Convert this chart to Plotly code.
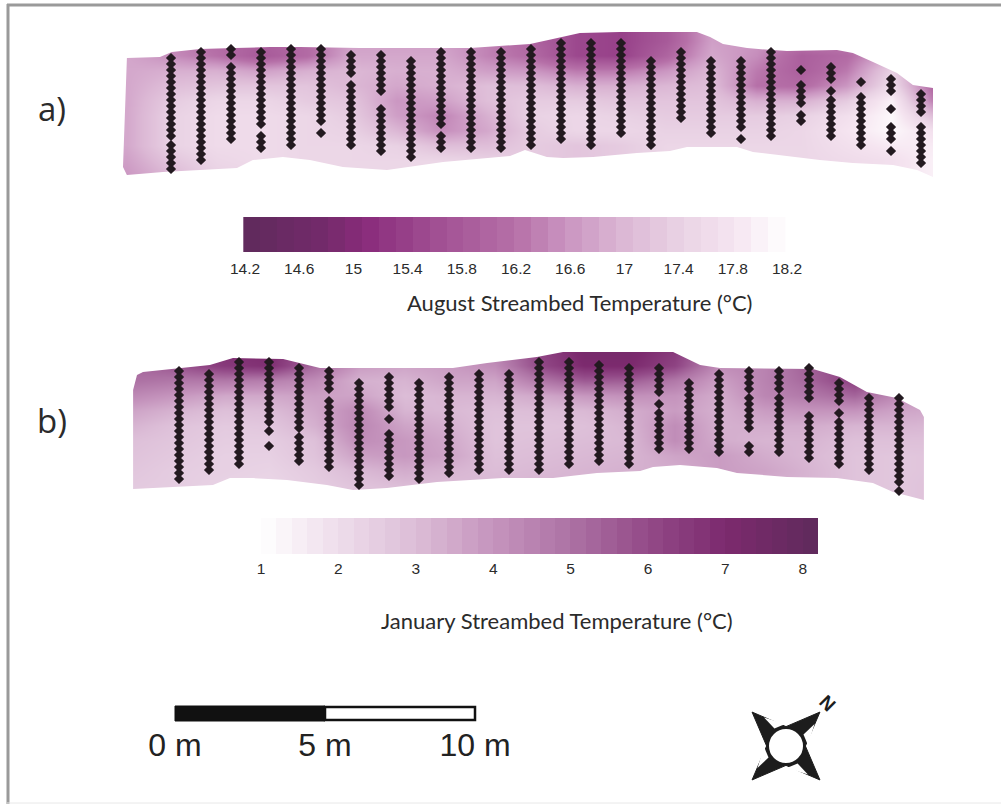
import math
import numpy as np
import plotly.graph_objects as go

# ---- Panel a: August ----
aug_grid_x = [-1.5, 0, 1.5, 3, 4.5, 6, 7.5, 9, 10.5, 12, 13.5, 15, 16.5, 18, 19.5, 21, 22.5, 24, 25.5]
aug_grid_y = [-0.5, 0, 0.5, 1, 1.5, 2, 2.5, 3, 3.5, 4, 4.5, 5]
aug_temp = [
    [16.8, 16.4, 16.1, 15.9, 16.1, 16.7, 16.7, 16.7, 16.4, 16.0, 15.5, 15.4, 15.8, 16.7, 16.6, 16.3, 16.4, 16.9, 16.3],
    [16.8, 16.4, 16.1, 15.9, 16.1, 16.7, 16.7, 16.7, 16.4, 16.0, 15.5, 15.4, 15.8, 16.7, 16.6, 16.3, 16.4, 16.9, 16.3],
    [16.8, 16.5, 16.2, 15.8, 16.1, 16.8, 16.8, 16.8, 16.4, 16.1, 15.5, 15.4, 16.0, 16.8, 16.5, 15.9, 16.1, 16.9, 16.0],
    [16.8, 16.9, 16.9, 16.7, 16.9, 17.0, 16.9, 16.9, 16.7, 16.6, 16.3, 16.3, 16.6, 17.0, 16.3, 15.9, 16.3, 17.4, 15.9],
    [16.8, 17.1, 17.2, 17.2, 17.2, 17.0, 16.8, 16.9, 17.1, 17.1, 16.9, 16.9, 17.0, 17.1, 16.2, 16.1, 16.6, 17.6, 15.9],
    [16.8, 17.3, 17.5, 17.5, 17.3, 17.2, 16.6, 16.7, 17.1, 17.3, 17.3, 17.2, 17.2, 17.2, 16.9, 16.9, 17.3, 18.0, 16.2],
    [16.8, 17.4, 17.6, 17.6, 17.5, 17.3, 16.7, 16.4, 16.9, 17.4, 17.5, 17.4, 17.3, 17.3, 17.3, 17.4, 17.7, 18.1, 17.0],
    [16.8, 17.4, 17.6, 17.6, 17.5, 17.4, 17.0, 16.5, 16.8, 17.3, 17.5, 17.5, 17.4, 17.4, 17.4, 17.5, 17.8, 18.1, 17.7],
    [16.8, 17.4, 17.6, 17.6, 17.5, 17.5, 17.4, 17.1, 17.1, 17.3, 17.2, 17.3, 17.5, 17.5, 17.5, 17.5, 17.7, 17.9, 17.9],
    [16.7, 17.2, 17.5, 17.6, 17.5, 17.5, 17.5, 17.5, 17.4, 17.3, 17.2, 17.3, 17.5, 17.5, 17.5, 17.5, 17.6, 17.7, 18.0],
    [16.6, 17.0, 17.4, 17.5, 17.5, 17.5, 17.5, 17.5, 17.5, 17.5, 17.4, 17.4, 17.5, 17.5, 17.5, 17.5, 17.6, 17.7, 18.0],
    [16.6, 17.0, 17.4, 17.5, 17.5, 17.5, 17.5, 17.5, 17.5, 17.5, 17.4, 17.4, 17.5, 17.5, 17.5, 17.5, 17.6, 17.7, 18.0],
]
aug_top_x = [-1.47, -0.37, 0.03, 0.97, 2.13, 3.3, 4.3, 6.3, 9.97, 10.97, 11.97, 12.73, 13.63, 14.97, 17.53, 17.97, 18.4, 19.2, 20.53, 22.2, 22.73, 23.4, 24.2, 24.73, 25.4]
aug_top_y = [0.6, 0.57, 0.4, 0.3, 0.27, 0.23, 0.23, 0.27, 0.27, 0.2, 0.13, -0.03, -0.23, -0.27, -0.27, -0.1, 0.13, 0.27, 0.37, 0.33, 0.43, 0.73, 1.1, 1.5, 1.6]
aug_bot_x = [25.4, 24.87, 24.07, 22.73, 21.63, 20.53, 19.4, 18.87, 17.2, 16.63, 15.53, 14.07, 13.07, 12.53, 11.8, 11.3, 9.07, 7.2, 5.73, 4.63, 3.73, 2.73, 2.2, -0.27, -1.47, -1.6]
aug_bot_y = [4.57, 4.33, 4.17, 4.1, 4.0, 3.87, 3.73, 3.57, 3.57, 3.7, 3.77, 3.9, 3.93, 3.9, 3.67, 3.87, 4.07, 4.33, 4.23, 4.0, 3.9, 4.0, 4.27, 4.4, 4.5, 4.23]
aug_samples = [
    [0.6, 0.8, 1.0, 1.2, 1.4, 1.6, 1.8, 2.0, 2.2, 2.4, 2.6, 2.8, 3.0, 3.2, 3.5, 3.7, 3.9, 4.1, 4.3],
    [0.4, 0.6, 0.8, 1.0, 1.2, 1.4, 1.6, 1.8, 2.0, 2.2, 2.4, 2.6, 2.8, 3.0, 3.2, 3.4, 3.6, 3.8, 4.0],
    [0.3, 0.5, 0.9, 1.1, 1.3, 1.5, 1.7, 1.9, 2.1, 2.3, 2.5, 2.7, 2.9, 3.1, 3.3],
    [0.4, 0.6, 0.8, 1.0, 1.2, 1.4, 1.6, 1.8, 2.0, 2.2, 2.4, 2.6, 2.8, 3.2, 3.4, 3.6],
    [0.3, 0.5, 0.7, 0.9, 1.1, 1.3, 1.5, 1.7, 1.9, 2.1, 2.3, 2.5, 2.7, 2.9, 3.1, 3.3, 3.5],
    [0.3, 0.5, 0.7, 0.9, 1.1, 1.3, 1.5, 1.7, 1.9, 2.1, 2.3, 2.5, 2.7, 3.1],
    [0.5, 0.7, 0.9, 1.1, 1.5, 1.7, 1.9, 2.1, 2.3, 2.5, 2.7, 2.9, 3.1, 3.3, 3.5],
    [0.5, 0.7, 0.9, 1.1, 1.3, 1.5, 1.7, 2.3, 2.5, 2.7, 2.9, 3.1, 3.3, 3.5, 3.7],
    [0.7, 0.9, 1.1, 1.3, 1.5, 1.7, 1.9, 2.1, 2.3, 2.5, 2.7, 2.9, 3.1, 3.3, 3.5, 3.7, 3.9],
    [0.4, 0.6, 0.8, 1.0, 1.2, 1.4, 1.6, 1.8, 2.0, 2.2, 2.4, 2.6, 2.8, 3.2, 3.4, 3.6],
    [0.4, 0.6, 0.8, 1.0, 1.2, 1.4, 1.6, 1.8, 2.0, 2.2, 2.4, 2.6, 2.8, 3.0, 3.2, 3.4, 3.6],
    [0.4, 0.6, 0.8, 1.0, 1.2, 1.4, 1.6, 1.8, 2.0, 2.2, 2.4, 2.6, 2.8, 3.0, 3.2, 3.4, 3.6],
    [0.3, 0.5, 0.7, 0.9, 1.1, 1.3, 1.5, 1.7, 1.9, 2.1, 2.3, 2.5, 2.7, 2.9, 3.1, 3.3, 3.5],
    [0.1, 0.3, 0.5, 0.7, 0.9, 1.1, 1.3, 1.5, 1.7, 1.9, 2.1, 2.3, 2.5, 2.7, 2.9, 3.1, 3.3],
    [0.1, 0.3, 0.5, 0.7, 0.9, 1.1, 1.3, 1.5, 1.7, 1.9, 2.1, 2.3, 2.5, 2.7, 2.9, 3.1, 3.3, 3.5],
    [0.1, 0.3, 0.5, 0.7, 0.9, 1.1, 1.3, 1.5, 1.7, 1.9, 2.1, 2.3, 2.5, 2.7, 2.9, 3.1],
    [0.7, 0.9, 1.1, 1.3, 1.5, 1.7, 1.9, 2.1, 2.3, 2.5, 2.7, 2.9, 3.1, 3.3, 3.5],
    [0.4, 0.6, 0.8, 1.0, 1.2, 1.4, 1.6, 1.8, 2.0, 2.2, 2.4, 2.6],
    [0.7, 0.9, 1.1, 1.3, 1.5, 1.7, 1.9, 2.1, 2.3, 2.5, 2.7, 2.9, 3.1],
    [0.7, 0.9, 1.1, 1.3, 1.5, 1.7, 1.9, 2.1, 2.3, 2.5, 2.7, 2.9, 3.3],
    [0.4, 0.6, 0.8, 1.0, 1.2, 1.4, 1.6, 1.8, 2.0, 2.2, 2.4, 2.6, 2.8, 3.0, 3.2],
    [1.0, 1.5, 1.7, 1.9, 2.1, 2.5, 2.7],
    [0.9, 1.1, 1.3, 1.7, 2.0, 2.2, 2.4, 2.6, 2.8, 3.0, 3.2],
    [1.4, 1.9, 2.1, 2.3, 2.5, 2.7, 2.9, 3.1, 3.3, 3.5],
    [1.3, 1.5, 1.7, 2.3, 2.9, 3.1, 3.3, 3.7],
    [1.8, 2.0, 2.2, 2.4, 2.9, 3.1, 3.3, 3.5, 3.7, 3.9, 4.1],
]
aug_ticks = [14.2, 14.6, 15, 15.4, 15.8, 16.2, 16.6, 17, 17.4, 17.8, 18.2]

# ---- Panel b: January ----
jan_grid_x = [-1.5, 0, 1.5, 3, 4.5, 6, 7.5, 9, 10.5, 12, 13.5, 15, 16.5, 18, 19.5, 21, 22.5, 24, 25.5]
jan_grid_y = [-0.5, 0, 0.5, 1, 1.5, 2, 2.5, 3, 3.5, 4, 4.5, 5]
jan_temp = [
    [5.2, 6.0, 6.8, 7.0, 5.5, 4.0, 4.0, 4.2, 4.5, 6.2, 7.2, 7.2, 6.5, 4.5, 4.5, 5.0, 5.5, 4.5, 4.0],
    [5.2, 6.0, 6.8, 7.0, 5.5, 4.0, 4.0, 4.2, 4.5, 6.2, 7.2, 7.2, 6.5, 4.5, 4.5, 5.0, 5.5, 4.5, 4.0],
    [5.2, 5.8, 6.5, 6.8, 5.2, 3.8, 3.6, 3.8, 4.2, 6.0, 7.0, 7.0, 6.2, 4.2, 4.5, 5.5, 6.3, 4.2, 4.0],
    [5.0, 4.8, 4.8, 4.6, 4.2, 3.3, 3.2, 3.6, 3.6, 4.8, 5.6, 5.5, 4.8, 3.7, 4.5, 5.3, 6.3, 4.5, 4.0],
    [4.3, 3.9, 3.5, 3.5, 3.7, 3.6, 3.0, 3.2, 3.2, 3.5, 3.9, 4.1, 4.0, 3.4, 4.4, 4.8, 5.3, 4.2, 3.8],
    [3.6, 3.2, 2.9, 3.0, 3.5, 4.3, 3.2, 3.1, 2.9, 3.0, 3.1, 3.4, 3.8, 3.3, 3.8, 4.0, 4.0, 3.6, 3.4],
    [3.2, 2.8, 2.6, 2.7, 3.3, 4.4, 3.6, 3.3, 2.8, 2.8, 2.9, 3.2, 4.2, 3.3, 3.4, 3.4, 3.2, 3.2, 3.1],
    [2.9, 2.7, 2.5, 2.5, 2.9, 4.2, 3.9, 3.5, 2.8, 2.9, 3.0, 3.1, 4.2, 3.4, 3.2, 3.2, 2.9, 2.9, 2.9],
    [2.8, 2.6, 2.4, 2.4, 2.8, 3.7, 3.9, 3.6, 2.9, 3.0, 3.1, 3.2, 3.6, 3.8, 3.4, 3.1, 2.8, 2.7, 2.8],
    [2.7, 2.5, 2.4, 2.3, 2.6, 3.1, 3.4, 3.2, 3.0, 3.1, 3.2, 3.3, 3.4, 3.8, 3.6, 3.2, 2.8, 2.7, 2.8],
    [2.6, 2.5, 2.3, 2.2, 2.5, 2.8, 3.0, 3.0, 3.1, 3.2, 3.2, 3.3, 3.3, 3.4, 3.4, 3.2, 2.8, 2.7, 2.9],
    [2.6, 2.5, 2.3, 2.2, 2.5, 2.8, 3.0, 3.0, 3.1, 3.2, 3.2, 3.3, 3.3, 3.4, 3.4, 3.2, 2.8, 2.7, 2.9],
]
jan_top_x = [-1.53, -1.4, -1.2, 0.03, 1.03, 1.8, 3.47, 4.7, 9.13, 10.27, 11.93, 12.8, 16.47, 17.37, 18.03, 21.13, 22.03, 22.93, 23.93, 24.7, 24.83]
jan_top_y = [1.33, 0.83, 0.73, 0.6, 0.5, 0.27, 0.3, 0.6, 0.6, 0.43, 0.23, 0.07, 0.07, 0.5, 0.6, 0.63, 0.9, 1.4, 1.6, 2.0, 2.23]
jan_bot_x = [24.83, 23.8, 23.13, 21.93, 20.27, 18.6, 17.93, 16.7, 15.8, 15.37, 13.93, 12.47, 10.8, 8.6, 6.93, 5.8, 4.93, 3.6, 2.47, 1.7, 1.13, -1.53]
jan_bot_y = [5.0, 4.73, 4.43, 4.27, 4.23, 4.1, 3.93, 3.83, 3.9, 4.03, 4.1, 4.27, 4.27, 4.4, 4.6, 4.67, 4.5, 4.33, 4.27, 4.27, 4.5, 4.63]
jan_samples = [
    [0.7, 0.9, 1.1, 1.3, 1.5, 1.7, 1.9, 2.1, 2.3, 2.5, 2.7, 2.9, 3.1, 3.3, 3.5, 3.7, 3.9, 4.1, 4.3],
    [0.8, 1.0, 1.2, 1.4, 1.6, 1.8, 2.0, 2.2, 2.4, 2.6, 2.8, 3.0, 3.2, 3.4, 3.6, 3.8, 4.0],
    [0.4, 0.6, 0.8, 1.0, 1.2, 1.4, 1.6, 1.8, 2.0, 2.2, 2.4, 2.6, 2.8, 3.0, 3.2, 3.4, 3.6, 3.8],
    [0.4, 0.6, 0.8, 1.0, 1.2, 1.4, 1.6, 1.8, 2.0, 2.2, 2.4, 2.7, 3.2],
    [0.6, 0.8, 1.0, 1.2, 1.4, 1.6, 1.8, 2.0, 2.2, 2.4, 2.6, 2.9, 3.1, 3.3, 3.5, 3.7],
    [0.7, 0.9, 1.1, 1.3, 1.7, 1.9, 2.1, 2.3, 2.5, 2.7, 2.9, 3.1, 3.3, 3.5, 3.7, 3.9],
    [1.1, 1.3, 1.5, 1.7, 1.9, 2.1, 2.3, 2.5, 2.7, 2.9, 3.1, 3.3, 3.5, 3.7, 3.9, 4.1, 4.3, 4.5],
    [0.9, 1.1, 1.3, 1.5, 1.7, 1.9, 2.3, 2.8, 3.0, 3.2, 3.4, 3.6, 3.8, 4.0, 4.2],
    [1.1, 1.3, 1.5, 1.7, 1.9, 2.1, 2.3, 2.5, 2.7, 2.9, 3.1, 3.3, 3.5, 3.7, 3.9, 4.1, 4.3],
    [0.9, 1.1, 1.3, 1.5, 1.7, 1.9, 2.1, 2.3, 2.5, 2.7, 2.9, 3.1, 3.3, 3.5, 3.7, 3.9, 4.1],
    [0.8, 1.0, 1.2, 1.4, 1.6, 1.8, 2.0, 2.2, 2.4, 2.6, 2.8, 3.0, 3.2, 3.4, 3.6, 3.8, 4.0],
    [0.8, 1.0, 1.2, 1.4, 1.6, 1.8, 2.0, 2.2, 2.4, 2.6, 2.8, 3.0, 3.2, 3.4, 3.6, 3.8, 4.0],
    [0.4, 0.6, 0.8, 1.0, 1.2, 1.4, 1.6, 1.8, 2.0, 2.2, 2.4, 2.6, 2.8, 3.0, 3.2, 3.4, 3.6, 3.8, 4.0],
    [0.4, 0.6, 0.8, 1.0, 1.2, 1.4, 1.6, 1.8, 2.0, 2.2, 2.4, 2.6, 2.8, 3.0, 3.2, 3.4, 3.6, 3.8],
    [0.5, 0.7, 0.9, 1.1, 1.3, 1.5, 1.7, 1.9, 2.1, 2.3, 2.5, 2.7, 2.9, 3.1, 3.3, 3.5, 3.7],
    [0.6, 0.8, 1.0, 1.2, 1.4, 1.6, 1.8, 2.0, 2.2, 2.4, 2.6, 2.8, 3.0, 3.2, 3.4, 3.6, 3.8],
    [0.6, 0.8, 1.0, 1.2, 1.4, 1.8, 2.1, 2.3, 2.5, 2.7, 2.9, 3.1, 3.3],
    [1.1, 1.3, 1.5, 1.7, 1.9, 2.1, 2.3, 2.5, 2.7, 2.9, 3.1, 3.3],
    [0.8, 1.0, 1.2, 1.4, 1.6, 1.8, 2.0, 2.2, 2.4, 2.6, 2.8, 3.0, 3.2, 3.4],
    [0.7, 0.9, 1.1, 1.3, 1.6, 1.8, 2.0, 2.2, 2.4, 2.6, 3.2, 3.4],
    [0.7, 0.9, 1.1, 1.3, 1.6, 1.8, 2.0, 2.2, 2.4, 2.6, 2.8, 3.0, 3.2, 3.4],
    [0.6, 0.8, 1.0, 1.2, 1.4, 1.6, 2.2, 2.4, 2.6, 2.8, 3.0, 3.2, 3.4, 3.6],
    [1.1, 1.3, 1.5, 1.7, 2.1, 2.4, 2.6, 2.8, 3.0, 3.2, 3.4, 3.6, 3.8],
    [1.6, 1.8, 2.0, 2.2, 2.4, 2.6, 2.8, 3.0, 3.2, 3.4, 3.6, 3.8, 4.0],
    [1.6, 1.8, 2.0, 2.2, 2.4, 2.6, 2.8, 3.0, 3.2, 3.4, 3.6, 3.8, 4.0, 4.2, 4.4, 4.7],
]
jan_ticks = [1, 2, 3, 4, 5, 6, 7, 8]

scale_ticks = [0, 5, 10]
scale_labels = ["0 m", "5 m", "10 m"]

# ---- Styling ----
W, H = 1001, 804
DARK = "#231a20"
aug_scale = [[0.0, "#5f2a5c"], [0.15, "#742a6b"], [0.225, "#8a2c7c"], [0.35, "#a04f92"], [0.5, "#b670a8"],
             [0.6, "#cb97c2"], [0.7, "#dcb8d5"], [0.8, "#e9d2e4"], [0.9, "#f5e4f0"], [1.0, "#ffffff"]]
jan_scale = [[0.0, "#ffffff"], [0.139, "#eeddeb"], [0.278, "#dcbdd7"], [0.417, "#c594bd"], [0.556, "#ad72a4"],
             [0.694, "#934a88"], [0.833, "#7c2a6e"], [1.0, "#5f2a5c"]]


def x_range(origin_px, px_per_unit):
    return [(0 - origin_px) / px_per_unit, (W - origin_px) / px_per_unit]


def y_range(origin_px, px_per_unit):
    return [(H - origin_px) / px_per_unit, (0 - origin_px) / px_per_unit]


fig = go.Figure()


def add_map(grid_x, grid_y, temp, cs, zmin, zmax, top_x, top_y, bot_x, bot_y, samples, xa, ya):
    fig.add_trace(go.Heatmap(x=grid_x, y=grid_y, z=temp, colorscale=cs, zmin=zmin, zmax=zmax,
                             zsmooth="best", showscale=False, xaxis=xa, yaxis=ya, hoverinfo="skip"))
    lo, hi, up, down = -3, 27, -2, 7
    fig.add_trace(go.Scatter(x=list(top_x) + [hi, hi, lo, lo], y=list(top_y) + [top_y[-1], up, up, top_y[0]],
                             mode="lines", fill="toself", fillcolor="white", line=dict(width=0),
                             xaxis=xa, yaxis=ya, hoverinfo="skip", showlegend=False))
    fig.add_trace(go.Scatter(x=list(bot_x) + [top_x[0], lo, lo, hi, hi, top_x[-1]],
                             y=list(bot_y) + [top_y[0], top_y[0], down, down, top_y[-1], top_y[-1]],
                             mode="lines", fill="toself", fillcolor="white", line=dict(width=0),
                             xaxis=xa, yaxis=ya, hoverinfo="skip", showlegend=False))
    xs, ys = [], []
    for station, depths in enumerate(samples):
        xs += [station] * len(depths)
        ys += depths
    fig.add_trace(go.Scatter(x=xs, y=ys, mode="markers", xaxis=xa, yaxis=ya, showlegend=False,
                             marker=dict(symbol="diamond", size=6.5, color=DARK, line=dict(width=1.2, color=DARK))))


add_map(aug_grid_x, aug_grid_y, aug_temp, aug_scale, 14.2, 18.2, aug_top_x, aug_top_y, aug_bot_x, aug_bot_y,
        aug_samples, "x2", "y2")
add_map(jan_grid_x, jan_grid_y, jan_temp, jan_scale, 1, 8.2, jan_top_x, jan_top_y, jan_bot_x, jan_bot_y,
        jan_samples, "x3", "y3")

# Colour keys: banded, on their own temperature axes
aug_bands = np.arange(14.25, 18.2, 0.125)
jan_bands = np.arange(1.1, 8.15, 0.2)
fig.add_trace(go.Heatmap(x=aug_bands, y=[217, 252], z=[aug_bands], colorscale=aug_scale, zmin=14.2, zmax=18.2,
                         showscale=False, xaxis="x4", yaxis="y", hoverinfo="skip"))
fig.add_trace(go.Heatmap(x=jan_bands, y=[518, 554], z=[jan_bands], colorscale=jan_scale, zmin=1, zmax=8.2,
                         showscale=False, xaxis="x5", yaxis="y", hoverinfo="skip"))
# invisible anchors so that the page axes exist
fig.add_trace(go.Scatter(x=[0, W], y=[0, H], mode="markers", marker=dict(opacity=0), showlegend=False, hoverinfo="skip"))
fig.add_trace(go.Scatter(x=scale_ticks, y=[730, 730, 730], mode="markers", marker=dict(opacity=0), xaxis="x6", yaxis="y",
                         showlegend=False, hoverinfo="skip"))

shapes = [
    dict(type="line", x0=8, x1=8, y0=4, y1=804, line=dict(color="#9a9a9a", width=3)),
    dict(type="line", x0=7, x1=W, y0=5, y1=5, line=dict(color="#9a9a9a", width=3)),
    dict(type="line", x0=7, x1=W, y0=803, y1=803, line=dict(color="#e8e8e8", width=1)),
    dict(type="rect", xref="x6", x0=scale_ticks[0], x1=scale_ticks[1], y0=706, y1=721,
         fillcolor="#111111", line=dict(color="#111111", width=1)),
    dict(type="rect", xref="x6", x0=scale_ticks[1], x1=scale_ticks[2], y0=707, y1=720,
         fillcolor="white", line=dict(color="#111111", width=2.5)),
]

# Compass rose
cx, cy, r = 786, 746, 18
for ang in (45, 135, 225, 315):
    a = math.radians(ang)
    tip = (cx + 48 * math.cos(a), cy + 48 * math.sin(a))
    b1 = (cx + r * math.cos(a - 1.05), cy + r * math.sin(a - 1.05))
    b2 = (cx + r * math.cos(a + 1.05), cy + r * math.sin(a + 1.05))
    shapes.append(dict(type="path", path=f"M{tip[0]},{tip[1]}L{b1[0]},{b1[1]}L{b2[0]},{b2[1]}Z",
                       fillcolor="#1d1d1d", line=dict(color="#1d1d1d", width=1)))
    s1 = (cx + 22 * math.cos(a + 0.75), cy + 22 * math.sin(a + 0.75))
    s2 = (cx + 21 * math.cos(a + 0.2), cy + 21 * math.sin(a + 0.2))
    s3 = (cx + 36 * math.cos(a + 0.13), cy + 36 * math.sin(a + 0.13))
    shapes.append(dict(type="path", path=f"M{s1[0]},{s1[1]}L{s2[0]},{s2[1]}L{s3[0]},{s3[1]}Z",
                       fillcolor="white", line=dict(width=0)))
shapes.append(dict(type="circle", x0=cx - r, x1=cx + r, y0=cy - r, y1=cy + r, fillcolor="white",
                   line=dict(color="#1d1d1d", width=2)))

TXT = "#2b2b2b"
annotations = [
    dict(x=52, y=108, text="a)", font=dict(family="Open Sans", size=33, color=TXT)),
    dict(x=52, y=420, text="b)", font=dict(family="Open Sans", size=33, color=TXT)),
    dict(x=580, y=302, text="August Streambed Temperature (°C)", font=dict(family="Lato", size=22, color=TXT)),
    dict(x=557, y=620, text="January Streambed Temperature (°C)", font=dict(family="Lato", size=22, color=TXT)),
    dict(x=828, y=703, text="<b>N</b>", textangle=45, font=dict(family="Liberation Sans", size=19, color="#1d1d1d")),
]
for a in annotations:
    a.update(xref="x", yref="y", showarrow=False, xanchor="center", yanchor="middle")


def page_axis(range_, **kw):
    return dict(range=range_, showgrid=False, zeroline=False, showticklabels=False, showline=False,
                ticks="", overlaying="x", **kw)


def y_overlay(range_):
    return dict(range=range_, showgrid=False, zeroline=False, showticklabels=False, showline=False,
                ticks="", overlaying="y")


def value_axis(origin_val_px, px_per_unit, val0, ticks, labels, pos_px, font):
    start = val0 - origin_val_px / px_per_unit
    return dict(range=[start, start + W / px_per_unit], overlaying="x", anchor="free", position=1 - pos_px / H,
                side="bottom", showgrid=False, zeroline=False, showline=False, ticks="",
                tickmode="array", tickvals=ticks, ticktext=labels, tickfont=font)


tick_font = dict(family="Liberation Sans", size=15.5, color="#2b2b2b")
fig.update_layout(
    width=W, height=H, margin=dict(l=0, r=0, t=0, b=0), autosize=False,
    paper_bgcolor="white", plot_bgcolor="white", showlegend=False,
    xaxis=dict(range=[0, W], visible=False, fixedrange=True),
    yaxis=dict(range=[H, 0], visible=False, fixedrange=True),
    xaxis2=page_axis(x_range(171, 30)),
    yaxis2=y_overlay(y_range(40, 30)),
    xaxis3=page_axis(x_range(179, 30)),
    yaxis3=y_overlay(y_range(350, 30)),
    xaxis4=value_axis(245, 135.5, 14.2, aug_ticks, [str(t) for t in aug_ticks], 257, tick_font),
    xaxis5=value_axis(261, 77.4, 1, jan_ticks, [str(t) for t in jan_ticks], 557, tick_font),
    xaxis6=value_axis(175, 30, 0, scale_ticks, scale_labels, 723,
                      dict(family="Liberation Sans", size=32, color="#222222")),
    shapes=shapes, annotations=annotations,
)
fig.write_html("out.html", config=dict(displayModeBar=False),
               post_script="document.body.style.margin='0';document.documentElement.style.overflow='hidden';")
